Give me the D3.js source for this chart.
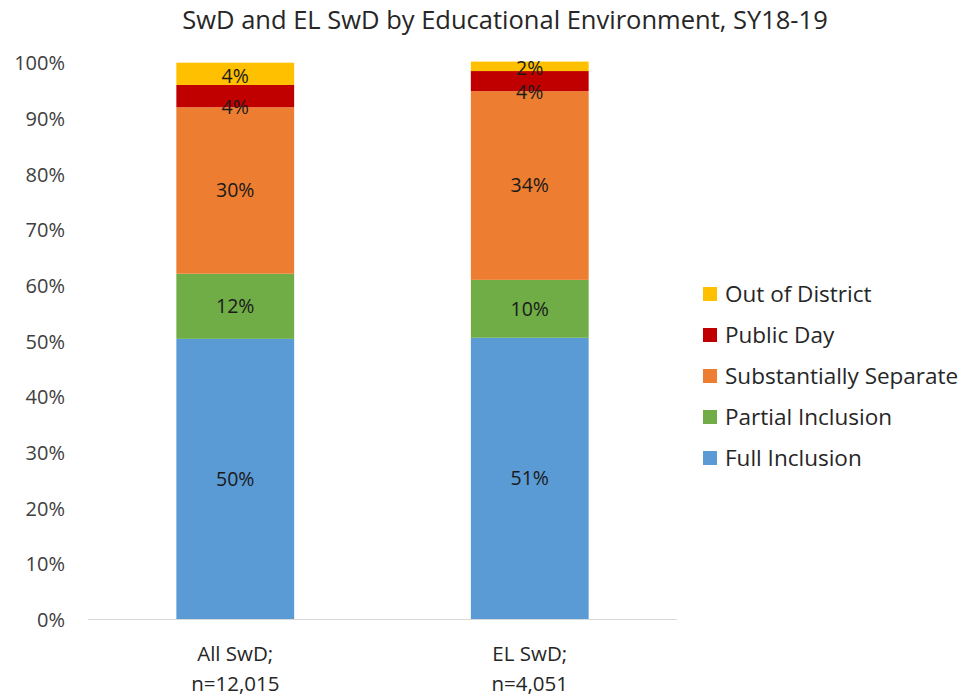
<html>
<head>
<meta charset="utf-8">
<title>SwD and EL SwD by Educational Environment</title>
<script src="https://cdn.jsdelivr.net/npm/d3@7"></script>
<style>
    body { margin:0; background:#fff; }
    text { font-family: "Open Sans", "Noto Sans", sans-serif; fill:#262626; }
    .title { font-size:25.5px; fill:#262626; }
    .tick text { font-size:20px; fill:#404040; }
    .lbl { font-size:19.5px; fill:#1a1a1a; }
    .leg { font-size:22.5px; fill:#262626; }
    .xcat { font-size:20.5px; fill:#262626; }
</style>
</head>
<body>
<div id="chart"></div>
<script>
    // data
    var categories = ["All SwD;|n=12,015", "EL SwD;|n=4,051"];
    var seriesNames = ["Full Inclusion", "Partial Inclusion", "Substantially Separate", "Public Day", "Out of District"];
    var fullInclusion = [0.504, 0.506];
    var partialInclusion = [0.117, 0.104];
    var substantiallySeparate = [0.299, 0.339];
    var publicDay = [0.040, 0.036];
    var outOfDistrict = [0.040, 0.017];
    var yTicks = [0, 0.1, 0.2, 0.3, 0.4, 0.5, 0.6, 0.7, 0.8, 0.9, 1.0];

    var colors = {"Full Inclusion":"#5B9BD5", "Partial Inclusion":"#70AD47",
        "Substantially Separate":"#ED7D31", "Public Day":"#C00000", "Out of District":"#FFC000"};
    // label nudges (Excel pushed the small labels down a bit)
    var labelShift = {"Public Day":11, "Out of District":2};

    var width = 969, height = 697;
    var margin = {left:88, right:292, top:62.7, bottom:77.5};

    var svg = d3.select("#chart").append("svg")
        .attr("width", width).attr("height", height);

    var rows = categories.map(function(c, i){
        return {cat:c, "Full Inclusion":fullInclusion[i], "Partial Inclusion":partialInclusion[i],
            "Substantially Separate":substantiallySeparate[i], "Public Day":publicDay[i],
            "Out of District":outOfDistrict[i]};
    });
    var stack = d3.stack().keys(seriesNames)(rows);

    var x = d3.scaleBand().domain(categories)
        .range([margin.left, width-margin.right]).paddingInner(0.6).paddingOuter(0.3);
    var y = d3.scaleLinear().domain([0,1]).range([height-margin.bottom, margin.top]);

    svg.append("text").attr("class","title")
        .attr("x", 505).attr("y", 29).attr("text-anchor","middle")
        .text("SwD and EL SwD by Educational Environment, SY18-19");

    // y axis (labels only)
    var yAxis = svg.append("g").attr("transform","translate(" + (margin.left-23) + ",0)")
        .call(d3.axisLeft(y).tickValues(yTicks).tickFormat(d3.format(".0%")).tickSize(0).tickPadding(0));
    yAxis.select(".domain").remove();
    yAxis.selectAll("text").attr("dy","0.35em");

    var groups = svg.append("g").selectAll("g")
        .data(stack).enter().append("g")
        .attr("fill", function(d){ return colors[d.key]; });

    groups.selectAll("rect")
        .data(function(d){ return d; })
        .enter().append("rect")
        .attr("x", function(d){ return x(d.data.cat); })
        .attr("width", x.bandwidth())
        .attr("y", function(d){ return y(d[1]); })
        .attr("height", function(d){ return y(d[0]) - y(d[1]); });

    var f = d3.format(".0%");
    stack.forEach(function(s){
        svg.append("g").selectAll("text")
            .data(s).enter().append("text")
            .attr("class","lbl")
            .attr("text-anchor","middle")
            .attr("dy","0.35em")
            .attr("x", function(d){ return x(d.data.cat) + x.bandwidth()/2; })
            .attr("y", function(d){ return (y(d[0]) + y(d[1]))/2 + (labelShift[s.key] || 0); })
            .text(function(d){ return f(d[1]-d[0]); });
    });

    // x axis line
    svg.append("line")
        .attr("x1", margin.left).attr("x2", width-margin.right)
        .attr("y1", y(0)).attr("y2", y(0))
        .attr("stroke","#d9d9d9").attr("stroke-width",1);

    var xc = svg.append("g").selectAll("text")
        .data(categories).enter().append("text")
        .attr("class","xcat").attr("text-anchor","middle")
        .attr("x", function(d){ return x(d) + x.bandwidth()/2; })
        .attr("y", 661);
    xc.append("tspan").text(function(d){ return d.split("|")[0]; });
    xc.append("tspan").attr("x", function(d){ return x(d) + x.bandwidth()/2; })
        .attr("dy", 30).text(function(d){ return d.split("|")[1]; });

    // legend, top to bottom reversed like the stack
    var legend = svg.append("g").selectAll("g")
        .data(seriesNames.slice().reverse()).enter().append("g")
        .attr("transform", function(d, i){ return "translate(703," + (294 + i*41) + ")"; });
    legend.append("rect").attr("x",0).attr("y",-7).attr("width",14).attr("height",14)
        .attr("fill", function(d){ return colors[d]; });
    legend.append("text").attr("class","leg").attr("x",22).attr("dy","0.35em")
        .text(function(d){ return d; });
</script>
</body>
</html>
